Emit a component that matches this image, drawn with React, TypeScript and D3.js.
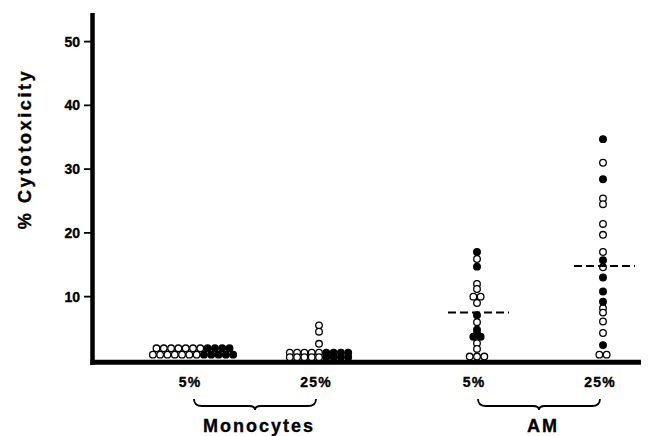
import React from "react";
import * as d3 from "d3";

const groups = ["Monocytes", "AM"];
const concentrations = ["5%", "25%"];
const yTicks = [10, 20, 30, 40, 50];

// % cytotoxicity per donor, open = one donor type, filled = the other
const mono5Open = [1.9, 1.9, 1.9, 1.9, 1.9, 1.9, 1.9, 0.9, 0.9, 0.9, 0.9, 0.9, 0.9, 0.9];
const mono5Filled = [1.9, 1.9, 1.9, 1.9, 0.9, 0.9, 0.9, 0.9, 0.9];
const mono25Open = [5.5, 4.5, 2.6, 1.2, 1.2, 1.2, 1.2, 1.2, 0.5, 0.5, 0.5, 0.5, 0.5];
const mono25Filled = [1.2, 1.2, 1.2, 1.2, 0.5, 0.5, 0.5, 0.5];
const am5Open = [15.9, 12.0, 11.2, 10.0, 10.0, 9.0, 6.0, 2.7, 1.8, 0.6, 0.6, 0.6];
const am5Filled = [17.0, 14.7, 7.1, 4.8, 4.2, 3.7, 3.7];
const am25Open = [31.0, 25.4, 24.5, 21.4, 19.7, 17.0, 14.6, 8.2, 7.5, 6.1, 4.3, 0.9, 0.9];
const am25Filled = [34.7, 28.4, 15.7, 13.0, 10.8, 9.2, 2.4];
const medians = [null, null, 7.5, 14.8];

const panels = [
  { group: "Monocytes", conc: "5%", open: mono5Open, filled: mono5Filled, median: medians[0] },
  { group: "Monocytes", conc: "25%", open: mono25Open, filled: mono25Filled, median: medians[1] },
  { group: "AM", conc: "5%", open: am5Open, filled: am5Filled, median: medians[2] },
  { group: "AM", conc: "25%", open: am25Open, filled: am25Filled, median: medians[3] },
];

const width = 650;
const height = 436;
const font = "'Liberation Sans', Arial, sans-serif";
const r = 3.3;
const step = 7.3;

const y = d3.scaleLinear().domain([0, 50]).range([360.4, 41.6]);
const xGroup = d3.scalePoint<string>().domain(groups).range([256, 540]);
const xConc = d3.scalePoint<string>().domain(concentrations).range([-63, 63]);
const xPos = (g: string, c: string) => (xGroup(g) as number) + (xConc(c) as number);

// points with the same value sit side by side in a row, open ones first
function layout(open: number[], filled: number[]) {
  const pts = [
    ...open.map((v) => ({ v, filled: false })),
    ...filled.map((v) => ({ v, filled: true })),
  ];
  const rows = d3.group(pts, (d) => d.v);
  const out: { v: number; filled: boolean; dx: number }[] = [];
  rows.forEach((row) => {
    row.forEach((d, i) => out.push({ ...d, dx: (i - (row.length - 1) / 2) * step }));
  });
  return out;
}

function bracePath(x0: number, x1: number, yTop: number, yMid: number) {
  const xc = (x0 + x1) / 2;
  return `M${x0},${yTop} Q${x0},${yMid} ${x0 + 8},${yMid} L${xc - 6},${yMid} Q${xc},${yMid} ${xc},${yMid + 4} Q${xc},${yMid} ${xc + 6},${yMid} L${x1 - 8},${yMid} Q${x1},${yMid} ${x1},${yTop}`;
}

const textStyle = { fontFamily: font, fontWeight: "bold", stroke: "#000", strokeWidth: 0.35 } as const;

export default function App() {
  const axisX = 92.5;
  const y0 = y(0);
  return (
    <svg width={width} height={height} style={{ position: "absolute", left: 0, top: 0, background: "#fff" }}>
      <rect x={0} y={0} width={width} height={height} fill="#fff" />
      {/* axes */}
      <line x1={axisX} x2={axisX} y1={y(54.5)} y2={y0 + 4.5} stroke="#000" strokeWidth={4.5} />
      <line x1={axisX - 2} x2={641} y1={y0 + 1.8} y2={y0 + 1.8} stroke="#000" strokeWidth={5} />
      {yTicks.map((t) => (
        <g key={t}>
          <line x1={84} x2={axisX} y1={y(t)} y2={y(t)} stroke="#000" strokeWidth={1.8} />
          <text x={80} y={y(t)} dy="0.36em" textAnchor="end" fontSize={14} {...textStyle}>
            {t}
          </text>
        </g>
      ))}
      <text
        transform={`translate(31,149) rotate(-90)`}
        textAnchor="middle"
        fontSize={18}
        letterSpacing={2.6}
        {...textStyle}
      >
        % Cytotoxicity
      </text>

      {/* dots */}
      {panels.map((p) => {
        const cx = xPos(p.group, p.conc);
        return (
          <g key={p.group + p.conc}>
            {layout(p.open, p.filled).map((d, i) => (
              <circle
                key={i}
                cx={cx + d.dx}
                cy={y(d.v)}
                r={r}
                fill={d.filled ? "#000" : "#fff"}
                stroke="#000"
                strokeWidth={1.3}
              />
            ))}
            {p.median != null && (
              <line
                x1={cx - 29}
                x2={cx + 32}
                y1={y(p.median)}
                y2={y(p.median)}
                stroke="#000"
                strokeWidth={2}
                strokeDasharray="8,4"
              />
            )}
            <text x={cx - 3} y={387} textAnchor="middle" fontSize={14} letterSpacing={1.2} {...textStyle}>
              {p.conc}
            </text>
          </g>
        );
      })}

      {/* group braces */}
      {groups.map((g) => {
        const x0 = xPos(g, "5%") + 1;
        const x1 = xPos(g, "25%") - 3;
        return (
          <g key={g}>
            <path d={bracePath(x0, x1, 399, 406)} fill="none" stroke="#000" strokeWidth={1.8} />
            <text
              x={(xGroup(g) as number) + 3}
              y={432}
              textAnchor="middle"
              fontSize={18}
              letterSpacing={2}
              {...textStyle}
            >
              {g}
            </text>
          </g>
        );
      })}
    </svg>
  );
}
